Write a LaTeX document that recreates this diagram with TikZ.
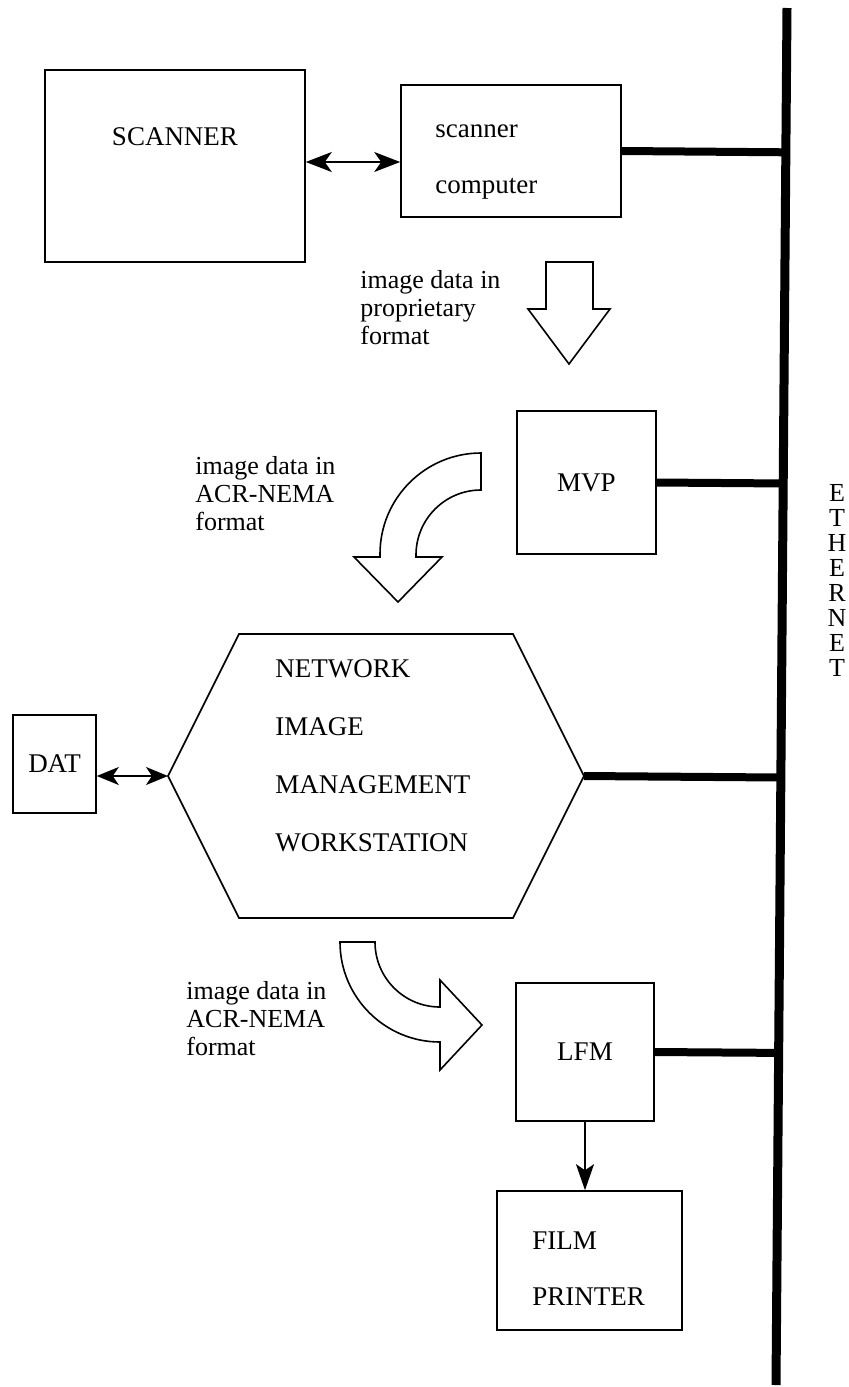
\documentclass[tikz,border=0pt]{standalone}
\usepackage{fontspec}
\setmainfont{Liberation Serif}
\usetikzlibrary{arrows.meta,calc}

\begin{document}
\begin{tikzpicture}[x=0.5pt,y=-0.5pt,
    box/.style={draw,line width=0.8pt,inner sep=0pt},
    boxfont/.style={font=\fontsize{13.5}{28}\selectfont},
    notefont/.style={font=\fontsize{13}{14}\selectfont,inner sep=0pt,align=left,anchor=west},
    link/.style={line width=4pt},
    flow/.style={draw,line width=0.8pt,fill=white,line join=miter},
    twoway/.style={line width=0.8pt,{Stealth[length=13pt,width=10pt,inset=3.5pt]}-{Stealth[length=13pt,width=10pt,inset=3.5pt]}},
    twowaysmall/.style={line width=0.8pt,{Stealth[length=11pt,width=9pt,inset=3pt]}-{Stealth[length=11pt,width=9pt,inset=3pt]}}]
  \useasboundingbox (0,0) rectangle (848,1387);

  % ethernet bus
  \coordinate (bustop) at (787,8);
  \coordinate (busbot) at (776,1385);
  \draw[line width=4.5pt] (bustop) -- (busbot);
  \node[font=\fontsize{13}{12.5}\selectfont,align=center,inner sep=0pt] (ether) at (837,580) {E\\T\\H\\E\\R\\N\\E\\T};

  % scanner side
  \path (175,166) node[box,minimum width=130pt,minimum height=96pt] (scanner) {};
  \node[boxfont,inner sep=0pt] (scannertxt) at (175,137) {SCANNER};
  \path (511,151) node[box,minimum width=110pt,minimum height=66pt] (scomp) {};
  \node[boxfont,inner sep=0pt,align=left,anchor=west] (scomptxt) at (435,162) {scanner\\computer};
  \draw[twoway] ([yshift=-5.5pt]scomp.west -| scanner.east) -- ([yshift=-5.5pt]scomp.west);

  % MVP
  \path (586.5,482.5) node[box,boxfont,minimum width=69.5pt,minimum height=71.5pt] (mvp) {MVP};

  % workstation hexagon
  \coordinate (hw) at (168,776);
  \coordinate (he) at (584,776);
  \draw[line width=0.8pt] (239,634) -- (513,634) -- (he) -- (513,918) -- (239,918) -- (hw) -- cycle;
  \node[font=\fontsize{13.5}{29}\selectfont,inner sep=0pt,align=left,anchor=west] (nimw) at (275,756)
    {NETWORK\\IMAGE\\MANAGEMENT\\WORKSTATION};
  \path (54.5,764) node[box,boxfont,minimum width=41.5pt,minimum height=49pt] (dat) {DAT};
  \draw[twowaysmall] (dat.east |- hw) -- (hw);

  % laser film
  \path (585,1052) node[box,boxfont,minimum width=69pt,minimum height=69pt] (lfm) {LFM};
  \path (589.5,1260.5) node[box,minimum width=92.5pt,minimum height=69.5pt] (film) {};
  \node[boxfont,inner sep=0pt,align=left,anchor=west] (filmtxt) at (532,1269) {FILM\\PRINTER};
  \draw[line width=0.8pt,-{Stealth[length=13pt,width=9pt,inset=3pt]}] (lfm.south) -- (lfm.south |- film.north);

  % taps onto the bus
  \draw[link] (scomp.east) -- ($(bustop)!(scomp.east)!(busbot)$);
  \draw[link] (mvp.east) -- ($(bustop)!(mvp.east)!(busbot)$);
  \draw[link] (he) -- ($(bustop)!(he)!(busbot)$);
  \draw[link] (lfm.east) -- ($(bustop)!(lfm.east)!(busbot)$);

  % data flow arrows
  \draw[flow] (546,262) -- (593,262) -- (593,309) -- (610,309) -- (569,364) -- (528,309) -- (546,309) -- cycle;
  \draw[flow] (481,453) arc[start angle=270,end angle=180,radius=101] -- (380,557) -- (354,557)
    -- (398,602) -- (442,557) -- (416,557) -- (416,555) arc[start angle=180,end angle=270,radius=65] -- cycle;
  \draw[flow] (340,942) arc[start angle=180,end angle=90,radius=100] -- (440,1070) -- (482,1025)
    -- (440,980) -- (440,1007) arc[start angle=90,end angle=180,radius=65] -- cycle;

  \node[notefont] (note1) at (360,308) {image data in\\proprietary\\format};
  \node[notefont] (note2) at (195,494) {image data in\\ACR-NEMA\\format};
  \node[notefont] (note3) at (186,1019) {image data in\\ACR-NEMA\\format};
\end{tikzpicture}
\end{document}
